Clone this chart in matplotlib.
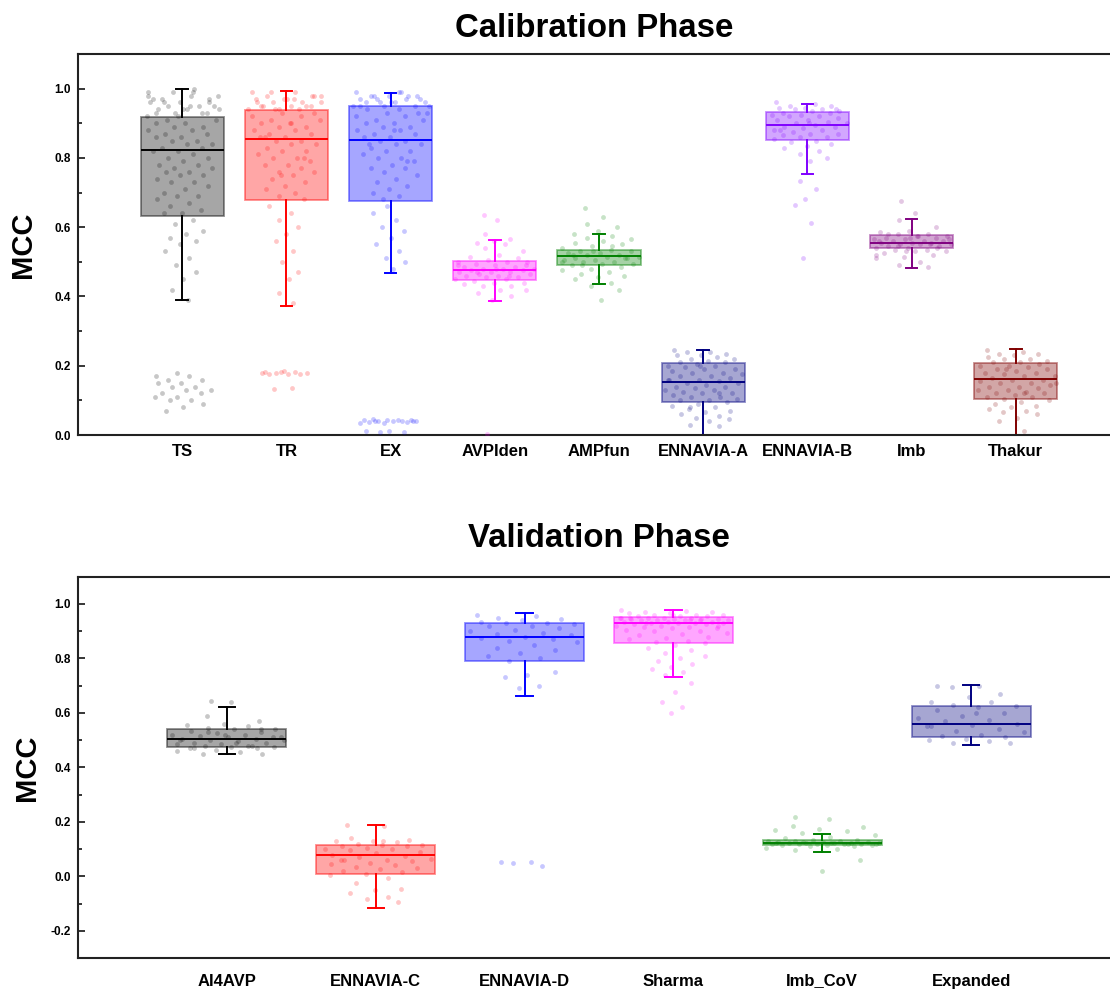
import numpy as np
import matplotlib
matplotlib.use("Agg")
import matplotlib.pyplot as plt
from matplotlib.colors import to_rgba
from matplotlib.transforms import ScaledTranslation

plt.rcParams['font.family'] = ['Liberation Sans', 'DejaVu Sans']
plt.rcParams['font.weight'] = 'bold'

# ---- calibration phase ----
cal_names = ["TS", "TR", "EX", "AVPIden", "AMPfun", "ENNAVIA-A", "ENNAVIA-B", "Imb", "Thakur"]
cal_colors = ["#000000", "#ff0000", "#0000ff", "#ff00ff", "#008000", "#000080", "#8000ff", "#800080", "#800000"]
# q1, median, q3, lower whisker, upper whisker
cal_q1 = [0.633, 0.679, 0.675, 0.448, 0.491, 0.096, 0.853, 0.539, 0.103]
cal_med = [0.824, 0.854, 0.851, 0.477, 0.516, 0.154, 0.894, 0.555, 0.161]
cal_q3 = [0.918, 0.937, 0.950, 0.501, 0.534, 0.207, 0.933, 0.578, 0.208]
cal_lo = [0.389, 0.373, 0.469, 0.386, 0.437, 0.000, 0.753, 0.482, 0.000]
cal_hi = [0.998, 0.994, 0.987, 0.563, 0.580, 0.244, 0.957, 0.623, 0.247]

ts_pts = [0.99, 0.98, 0.97, 0.97, 0.96, 0.96, 0.95, 0.95, 0.94, 0.94, 0.93, 0.93, 0.93, 0.98, 0.99,
          0.96, 0.95, 0.94, 0.97, 0.93, 0.99, 0.98, 0.95, 0.94, 0.96, 0.92, 0.92, 1.00,
          0.91, 0.91, 0.90, 0.90, 0.89, 0.89, 0.88, 0.88, 0.87, 0.87, 0.86, 0.86, 0.85, 0.85,
          0.84, 0.84, 0.83, 0.83, 0.82, 0.82, 0.81, 0.80, 0.80, 0.79, 0.78, 0.78, 0.77, 0.77,
          0.76, 0.76, 0.75, 0.75, 0.74, 0.73, 0.73, 0.72, 0.71, 0.70, 0.69, 0.69, 0.68, 0.67,
          0.66, 0.65, 0.64, 0.64, 0.62, 0.61, 0.59, 0.58, 0.57, 0.56, 0.55, 0.53, 0.51, 0.49,
          0.47, 0.45, 0.42, 0.39, 0.18, 0.17, 0.17, 0.16, 0.16, 0.15, 0.15, 0.14, 0.14, 0.13,
          0.13, 0.12, 0.12, 0.11, 0.11, 0.10, 0.10, 0.09, 0.08, 0.07]
tr_pts = [0.99, 0.99, 0.98, 0.98, 0.97, 0.97, 0.96, 0.96, 0.96, 0.95, 0.95, 0.95, 0.94, 0.94,
          0.94, 0.99, 0.98, 0.97, 0.96, 0.95, 0.94, 0.98, 0.97, 0.95, 0.93, 0.93, 0.92, 0.92,
          0.91, 0.91, 0.90, 0.90, 0.89, 0.89, 0.88, 0.88, 0.87, 0.87, 0.86, 0.86, 0.85, 0.85,
          0.84, 0.84, 0.83, 0.82, 0.82, 0.81, 0.80, 0.80, 0.79, 0.78, 0.78, 0.77, 0.76, 0.76,
          0.75, 0.74, 0.73, 0.72, 0.71, 0.70, 0.69, 0.68, 0.90, 0.86, 0.80, 0.75,
          0.66, 0.64, 0.62, 0.60, 0.58, 0.56, 0.53, 0.50, 0.47, 0.45, 0.41, 0.38,
          0.185, 0.183, 0.181, 0.180, 0.178, 0.177, 0.176, 0.175, 0.182, 0.179, 0.135, 0.134]
ex_pts = [0.99, 0.99, 0.98, 0.98, 0.98, 0.97, 0.97, 0.97, 0.96, 0.96, 0.96, 0.95, 0.95, 0.95,
          0.99, 0.98, 0.97, 0.96, 0.95, 0.98, 0.96, 0.95, 0.94, 0.94, 0.93, 0.93, 0.92, 0.92,
          0.91, 0.91, 0.90, 0.90, 0.89, 0.89, 0.88, 0.88, 0.87, 0.87, 0.86, 0.86, 0.85, 0.85,
          0.84, 0.84, 0.83, 0.82, 0.82, 0.81, 0.80, 0.80, 0.79, 0.78, 0.77, 0.77, 0.76, 0.75,
          0.74, 0.73, 0.72, 0.71, 0.70, 0.69, 0.68, 0.93, 0.88, 0.84, 0.79,
          0.66, 0.64, 0.62, 0.60, 0.59, 0.57, 0.55, 0.53, 0.51, 0.50, 0.48,
          0.045, 0.044, 0.043, 0.042, 0.041, 0.040, 0.040, 0.039, 0.038, 0.037, 0.036, 0.035,
          0.043, 0.041, 0.039, 0.012, 0.011, 0.010, 0.009]
avp_pts = [0.636, 0.62, 0.58, 0.565, 0.56, 0.555, 0.55, 0.54, 0.53, 0.52, 0.515, 0.51, 0.505,
           0.50, 0.50, 0.495, 0.49, 0.49, 0.485, 0.485, 0.48, 0.48, 0.48, 0.475, 0.475, 0.47,
           0.47, 0.47, 0.465, 0.465, 0.46, 0.46, 0.455, 0.455, 0.45, 0.45, 0.445, 0.44, 0.44,
           0.435, 0.43, 0.43, 0.42, 0.42, 0.41, 0.40, 0.39, 0.49, 0.46, 0.47, 0.50, 0.48, 0.003]
amp_pts = [0.654, 0.63, 0.61, 0.60, 0.59, 0.58, 0.575, 0.57, 0.565, 0.56, 0.555, 0.55, 0.545,
           0.54, 0.535, 0.53, 0.53, 0.525, 0.525, 0.52, 0.52, 0.515, 0.515, 0.51, 0.51, 0.505,
           0.505, 0.50, 0.50, 0.495, 0.495, 0.49, 0.485, 0.48, 0.475, 0.47, 0.465, 0.46, 0.455,
           0.45, 0.44, 0.43, 0.42, 0.39, 0.52, 0.51, 0.53, 0.50, 0.545, 0.49]
ena_pts = [0.245, 0.24, 0.24, 0.235, 0.23, 0.23, 0.225, 0.22, 0.22, 0.215, 0.21, 0.21, 0.205,
           0.20, 0.20, 0.195, 0.19, 0.19, 0.185, 0.18, 0.18, 0.175, 0.17, 0.17, 0.165, 0.16,
           0.16, 0.155, 0.15, 0.15, 0.145, 0.14, 0.14, 0.135, 0.13, 0.13, 0.125, 0.12, 0.12,
           0.115, 0.11, 0.11, 0.105, 0.10, 0.10, 0.095, 0.09, 0.085, 0.08, 0.075, 0.07, 0.065,
           0.06, 0.055, 0.05, 0.045, 0.04, 0.03, 0.025, 0.20, 0.16, 0.12, 0.08]
enb_pts = [0.96, 0.955, 0.95, 0.95, 0.945, 0.945, 0.94, 0.94, 0.935, 0.935, 0.93, 0.93, 0.925,
           0.925, 0.92, 0.92, 0.915, 0.91, 0.91, 0.905, 0.90, 0.90, 0.895, 0.89, 0.89, 0.885,
           0.88, 0.88, 0.875, 0.87, 0.87, 0.865, 0.86, 0.86, 0.855, 0.85, 0.845, 0.84, 0.835,
           0.83, 0.82, 0.81, 0.80, 0.79, 0.734, 0.71, 0.68, 0.664, 0.611, 0.51, 0.94, 0.90, 0.88]
imb_pts = [0.676, 0.64, 0.62, 0.60, 0.59, 0.585, 0.58, 0.58, 0.575, 0.575, 0.57, 0.57, 0.565,
           0.565, 0.56, 0.56, 0.56, 0.555, 0.555, 0.555, 0.55, 0.55, 0.55, 0.545, 0.545, 0.54,
           0.54, 0.535, 0.535, 0.53, 0.53, 0.525, 0.52, 0.515, 0.51, 0.50, 0.49, 0.485, 0.57,
           0.56, 0.55, 0.545, 0.565, 0.575, 0.58, 0.54, 0.53, 0.52]
tha_pts = [0.245, 0.24, 0.235, 0.235, 0.23, 0.225, 0.22, 0.22, 0.215, 0.21, 0.21, 0.205,
           0.20, 0.20, 0.195, 0.19, 0.19, 0.185, 0.18, 0.18, 0.175, 0.17, 0.17, 0.165, 0.16,
           0.16, 0.155, 0.15, 0.15, 0.145, 0.14, 0.14, 0.135, 0.13, 0.13, 0.125, 0.12, 0.12,
           0.115, 0.11, 0.11, 0.105, 0.10, 0.095, 0.09, 0.085, 0.08, 0.075, 0.07, 0.065, 0.06,
           0.05, 0.04, 0.0125, 0.19, 0.15, 0.12]
cal_pts = [ts_pts, tr_pts, ex_pts, avp_pts, amp_pts, ena_pts, enb_pts, imb_pts, tha_pts]

# ---- validation phase ----
val_names = ["AI4AVP", "ENNAVIA-C", "ENNAVIA-D", "Sharma", "Imb_CoV", "Expanded"]
val_colors = ["#000000", "#ff0000", "#0000ff", "#ff00ff", "#008000", "#000080"]
val_q1 = [0.475, 0.010, 0.792, 0.858, 0.115, 0.510]
val_med = [0.504, 0.077, 0.880, 0.929, 0.122, 0.561]
val_q3 = [0.541, 0.116, 0.929, 0.951, 0.135, 0.627]
val_lo = [0.449, -0.1175, 0.663, 0.733, 0.0906, 0.481]
val_hi = [0.623, 0.187, 0.966, 0.978, 0.157, 0.704]

ai_pts = [0.643, 0.64, 0.59, 0.57, 0.56, 0.555, 0.55, 0.545, 0.54, 0.54, 0.535, 0.53, 0.525,
          0.52, 0.52, 0.515, 0.51, 0.51, 0.505, 0.505, 0.50, 0.50, 0.495, 0.49, 0.49, 0.485,
          0.485, 0.48, 0.48, 0.475, 0.475, 0.47, 0.47, 0.465, 0.46, 0.455, 0.45, 0.45, 0.52,
          0.50, 0.48, 0.53, 0.51, 0.49, 0.47, 0.54]
enc_pts = [0.19, 0.185, 0.14, 0.135, 0.13, 0.13, 0.125, 0.12, 0.115, 0.115, 0.11, 0.11, 0.105,
           0.10, 0.10, 0.095, 0.09, 0.085, 0.08, 0.075, 0.07, 0.065, 0.06, 0.06, 0.055, 0.05,
           0.045, 0.04, 0.035, 0.03, 0.025, 0.02, 0.015, 0.01, 0.005, -0.005, -0.025, -0.045,
           -0.05, -0.06, -0.075, -0.085, -0.095, 0.13, 0.06]
end_pts = [0.96, 0.955, 0.95, 0.945, 0.94, 0.935, 0.93, 0.93, 0.925, 0.92, 0.92, 0.91, 0.905,
           0.90, 0.895, 0.89, 0.885, 0.88, 0.875, 0.87, 0.865, 0.86, 0.85, 0.84, 0.83, 0.82,
           0.81, 0.80, 0.79, 0.75, 0.74, 0.73, 0.70, 0.69, 0.054, 0.052, 0.047, 0.037]
sha_pts = [0.978, 0.975, 0.97, 0.97, 0.965, 0.965, 0.96, 0.96, 0.96, 0.955, 0.955, 0.955,
           0.95, 0.95, 0.95, 0.95, 0.945, 0.945, 0.945, 0.945, 0.94, 0.94, 0.94, 0.94, 0.935,
           0.935, 0.935, 0.93, 0.93, 0.93, 0.93, 0.925, 0.925, 0.92, 0.92, 0.915, 0.915, 0.91,
           0.91, 0.905, 0.90, 0.90, 0.895, 0.89, 0.885, 0.88, 0.875, 0.87, 0.865, 0.86, 0.855,
           0.85, 0.84, 0.83, 0.82, 0.81, 0.80, 0.79, 0.78, 0.77, 0.76, 0.75, 0.74, 0.71, 0.676,
           0.64, 0.62, 0.60, 0.95, 0.94, 0.93, 0.92, 0.96, 0.95, 0.94]
imc_pts = [0.218, 0.21, 0.184, 0.18, 0.175, 0.17, 0.165, 0.16, 0.15, 0.145, 0.14, 0.135,
           0.133, 0.13, 0.13, 0.128, 0.127, 0.125, 0.125, 0.124, 0.123, 0.122, 0.122, 0.121,
           0.12, 0.12, 0.119, 0.118, 0.117, 0.116, 0.115, 0.114, 0.112, 0.11, 0.105, 0.10,
           0.095, 0.061, 0.021, 0.124, 0.12, 0.126, 0.118, 0.122]
exp_pts = [0.70, 0.698, 0.695, 0.67, 0.66, 0.641, 0.64, 0.63, 0.625, 0.62, 0.61, 0.60, 0.59,
           0.58, 0.575, 0.57, 0.56, 0.555, 0.55, 0.54, 0.535, 0.53, 0.52, 0.515, 0.51, 0.505,
           0.50, 0.495, 0.491, 0.49, 0.60, 0.55]
val_pts = [ai_pts, enc_pts, end_pts, sha_pts, imc_pts, exp_pts]


def jitter(y, span):
    # wider spread where points are dense, narrow where they are sparse
    y = np.asarray(y)
    win = 0.05 * span
    dens = np.array([(np.abs(y - v) < win).sum() for v in y], dtype=float)
    w = np.sqrt(dens / dens.max())
    w = np.clip(w, 0.25, 1.0)
    base = np.arange(len(y)) * 0.6180339887 % 1.0 - 0.5
    return base * 0.8 * w


def panel(ax, names, colors, q1, med, q3, lo, hi, pts, ylim, yticks, yminor, xpad):
    pos = np.arange(1, len(names) + 1)
    stats = [dict(q1=a, med=m, q3=b, whislo=l, whishi=h, fliers=[])
             for a, m, b, l, h in zip(q1, med, q3, lo, hi)]
    bp = ax.bxp(stats, positions=pos, widths=0.8, patch_artist=True,
                showfliers=False, capwidths=0.11)
    for i, c in enumerate(colors):
        bp['boxes'][i].set_facecolor(to_rgba(c, 0.35))
        bp['boxes'][i].set_edgecolor(to_rgba(c, 0.45))
        bp['boxes'][i].set_linewidth(1.3)
        bp['medians'][i].set_color(c)
        bp['medians'][i].set_linewidth(1.4)
        for ln in bp['whiskers'][2 * i:2 * i + 2] + bp['caps'][2 * i:2 * i + 2]:
            ln.set_color(c)
            ln.set_linewidth(1.4)
        y = np.array(pts[i])
        off = jitter(y, ylim[1] - ylim[0])
        ax.scatter(pos[i] + off, y, s=12, color=c, alpha=0.22, linewidths=0, zorder=3)

    ax.set_xlim(0, len(names) + 1)
    ax.set_ylim(*ylim)
    ax.set_xticks(pos)
    ax.set_xticklabels(names, fontsize=12, fontweight='bold', va='baseline')
    ax.set_yticks(yticks)
    ax.set_yticklabels([f"{t:.1f}" for t in yticks], fontsize=8.5, fontweight='bold')
    ax.set_yticks(yminor, minor=True)
    ax.tick_params(axis='y', which='major', direction='in', length=5, width=1.1, pad=5)
    ax.tick_params(axis='y', which='minor', direction='in', length=3, width=1.1)
    ax.tick_params(axis='x', length=0, pad=xpad)
    for s in ax.spines.values():
        s.set_linewidth(1.5)
        s.set_color('#222222')
    ax.set_ylabel("MCC", fontsize=21, fontweight='bold', va='center')


fig = plt.figure(figsize=(11.1, 9.89), dpi=100)
ax1 = fig.add_axes([78 / 1110, 1 - 435 / 989, 1042 / 1110, 381 / 989])
ax2 = fig.add_axes([78 / 1110, 1 - 958 / 989, 1042 / 1110, 381.3 / 989])

panel(ax1, cal_names, cal_colors, cal_q1, cal_med, cal_q3, cal_lo, cal_hi, cal_pts,
      (0, 1.1), [0, 0.2, 0.4, 0.6, 0.8, 1.0], [0.1, 0.3, 0.5, 0.7, 0.9], 15.3)
panel(ax2, val_names, val_colors, val_q1, val_med, val_q3, val_lo, val_hi, val_pts,
      (-0.3, 1.1), [-0.2, 0, 0.2, 0.4, 0.6, 0.8, 1.0], [-0.1, 0.1, 0.3, 0.5, 0.7, 0.9], 20.2)
ax1.yaxis.set_label_coords(-0.0528, 0.5)
ax2.yaxis.set_label_coords(-0.049, 0.5)

# the underscore label sits a bit low; nudge it up to line up with the others
lab = ax2.get_xticklabels()[4]
lab.set_transform(lab.get_transform() + ScaledTranslation(0, 0.8 / 72, fig.dpi_scale_trans))

fig.text(594 / 1110, 1 - 37.3 / 989, "Calibration Phase", ha='center', va='baseline',
         fontsize=23.8, fontweight='bold')
fig.text(599 / 1110, 1 - 547.3 / 989, "Validation Phase", ha='center', va='baseline',
         fontsize=23.8, fontweight='bold')

fig.savefig("out.png", dpi=100)
